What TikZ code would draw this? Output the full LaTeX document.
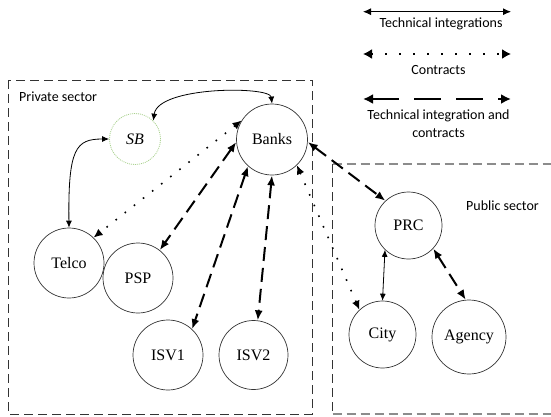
\documentclass[tikz,border=0pt]{standalone}
\usepackage{fontspec}
\setmainfont{Liberation Serif}
\newfontfamily\calibri{Carlito}
\usetikzlibrary{arrows.meta}
\definecolor{sbgreen}{RGB}{169,209,142}
\begin{document}
\begin{tikzpicture}[x=1pt,y=-1pt,
 nd/.style={circle, draw=black!80, line width=0.7pt, inner sep=0pt, font=\fontsize{16}{19}\selectfont},
 lbl/.style={font=\calibri\fontsize{14}{17.7}\selectfont, inner sep=0pt, align=center},
 tech/.style={line width=0.8pt, {Latex[length=7pt,width=6pt]}-{Latex[length=7pt,width=6pt]}},
 contr/.style={line width=1.6pt, dash pattern=on 1.6pt off 10pt, {Latex[length=9pt,width=8pt]}-{Latex[length=9pt,width=8pt]}},
 both/.style={line width=2pt, dash pattern=on 14pt off 7pt, {Latex[length=10pt,width=8pt]}-{Latex[length=10pt,width=8pt]}},
 boxline/.style={line width=0.7pt, black!80, dash pattern=on 9pt off 5pt},
]
\useasboundingbox (0,0) rectangle (551,416);

% sector boxes
\draw[boxline] (8.3,80) rectangle (312.5,414);
\draw[boxline] (332.7,164) -- (332.7,414);
\draw[line width=1.4pt, black!45, dash pattern=on 9pt off 5pt] (332.7,164) -- (551,164);
\draw[line width=2pt, black!45, dash pattern=on 9pt off 5pt] (332.7,414) -- (551,414);
\node[lbl, anchor=west] (priv) at (19,97) {Private sector};
\node[lbl] (pub) at (502.5,206) {Public sector};

% nodes
\node[circle, draw=sbgreen, line width=0.8pt, dash pattern=on 1pt off 1pt, minimum size=51pt, inner sep=0pt, font=\fontsize{16}{19}\selectfont\itshape] (SB) at (135,139) {SB};
\node[nd, minimum size=71pt] (Banks) at (272,139.5) {Banks};
\node[nd, minimum size=70pt] (Telco) at (69,263) {Telco};
\node[nd, minimum size=70pt] (PSP) at (138,278) {PSP};
\node[nd, minimum size=70pt] (ISV1) at (168,355) {ISV1};
\node[nd, minimum size=69pt] (ISV2) at (253.5,355) {ISV2};
\node[nd, minimum size=67pt] (PRC) at (408.5,225.5) {PRC};
\node[nd, minimum size=67pt] (City) at (382.5,334.5) {City};
\node[nd, minimum size=74pt] (Agency) at (469,337) {Agency};

% connectors
\draw[tech] (SB.45) .. controls (158,86) and (270,86) .. (Banks.north);
\draw[tech] (Telco.north) .. controls (68,148) and (76,139) .. (SB.west);
\draw[contr] (Banks.148) -- (Telco.46);
\draw[both] (Banks.184) -- (PSP.52);
\draw[both] (Banks.228) -- (ISV1.47);
\draw[both] (Banks.270) -- (ISV2.83);
\draw[contr] (Banks.314) -- (City.133);
\draw[both] (Banks.356) -- (PRC.133);
\draw[tech] (PRC.226) -- (City.north);
\draw[both] (PRC.317) -- (Agency.95);

% legend
\coordinate (t1) at (363,11.7);
\coordinate (t2) at (511,11.7);
\coordinate (c1) at (363,54);
\coordinate (c2) at (511,54);
\coordinate (b1) at (363,99);
\coordinate (b2) at (511,99);
\draw[line width=0.8pt, {Latex[length=8pt,width=7pt]}-{Latex[length=8pt,width=7pt]}] (t1) -- (t2);
\draw[line width=1.6pt, dash pattern=on 1.6pt off 12.4pt, {Latex[length=9pt,width=10pt]}-{Latex[length=9pt,width=10pt]}] (c1) -- (c2);
\draw[line width=2.2pt, dash pattern=on 27pt off 15pt, {Latex[length=10pt,width=10pt]}-{Latex[length=10pt,width=10pt]}] (b1) -- (b2);
\node[lbl] (lt) at (441,24) {Technical integrations};
\node[lbl] (lc) at (438.5,70) {Contracts};
\node[lbl] (lb) at (438.5,124) {Technical integration and\\contracts};
\end{tikzpicture}
\end{document}
